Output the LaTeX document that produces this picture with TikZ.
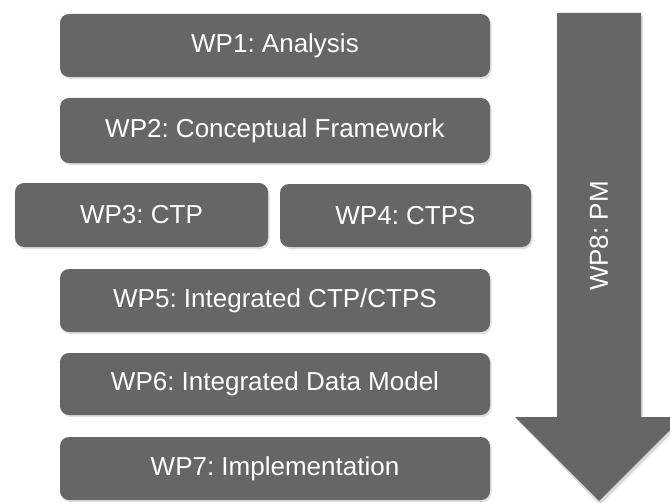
\documentclass[tikz,border=0pt]{standalone}
\usepackage{fontspec}
\setmainfont{Liberation Sans}
\usepackage{tikz}
\usetikzlibrary{shadows}
\definecolor{wpgray}{HTML}{666666}
\frenchspacing

\begin{document}
\begin{tikzpicture}[x=1pt,y=-1pt,
    wpbox/.style={fill=wpgray,rounded corners=9pt,text=white,
        font=\fontsize{26}{30}\selectfont,inner sep=0pt,
        drop shadow={opacity=0.25,shadow xshift=1.5pt,shadow yshift=-2pt}},
    wide/.style={wpbox,minimum width=430pt,minimum height=63pt}]
            \clip (0,0) rectangle (670,503);
            \fill[white] (0,0) rectangle (670,503);
            \fill[black,opacity=0.15] (559,16) -- (643,16) -- (643,420) -- (685,420) -- (600,505) -- (517,420) -- (559,420) -- cycle;
            \fill[wpgray] (557,13) -- (641,13) -- (641,417) -- (683,417) -- (599,501) -- (515,417) -- (557,417) -- cycle;
            \node[wide] (wpone) at (275,45.5) {WP1: Analysis};
            \node[wide,minimum height=65pt] (wptwo) at (275,130.5) {WP2: Conceptual Framework};
            \node[wpbox,minimum width=253pt,minimum height=64pt] (wpthree) at (141.5,215) {WP3: CTP};
            \node[wpbox,minimum width=251pt,minimum height=63pt] (wpfour) at (405.5,215.5) {WP4: CTPS};
            \node[wide] (wpfive) at (275,300.5) {WP5: Integrated CTP/CTPS};
            \node[wide,minimum height=62pt] (wpsix) at (275,384) {WP6: Integrated Data Model};
            \node[wide] (wpseven) at (275,468.5) {WP7: Implementation};
            \node[rotate=90,text=white,font=\fontsize{26}{30}\selectfont] (wpeight) at (599,236) {WP8: PM};
            \end{tikzpicture}
\end{document}
